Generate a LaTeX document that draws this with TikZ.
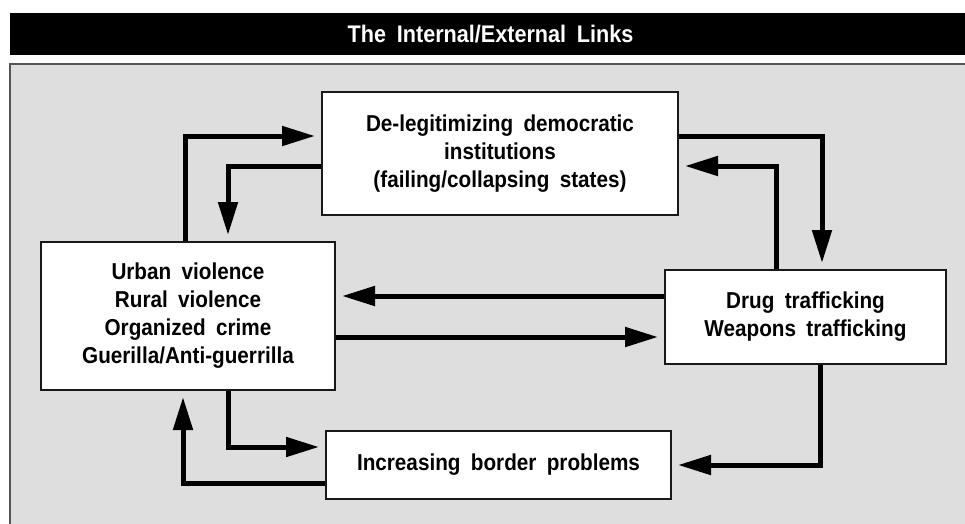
\documentclass[tikz,border=0pt]{standalone}
\usepackage{fontspec}
\setmainfont{Liberation Sans}[FakeStretch=0.9, WordSpace=1.8]
\usetikzlibrary{arrows.meta}

\definecolor{panelgray}{HTML}{DEDEDE}
\definecolor{framegray}{HTML}{555555}

\tikzset{
  linkbox/.style={draw=black!90, line width=2pt, fill=white, align=center,
    inner sep=0pt, font=\bfseries\fontsize{23}{28}\selectfont},
  link/.style={line width=5pt, -{Triangle[length=33pt,width=19pt]}, shorten >=6pt}
}

\begin{document}
\begin{tikzpicture}[x=1pt,y=-1pt]

        \useasboundingbox (0,0) rectangle (965,523);

        % title bar and panel
        \node[fill=black, minimum width=962pt, minimum height=42pt, inner sep=0pt,
              text=white, font=\bfseries\fontsize{24}{26}\selectfont]
              (title) at (490.5,34) {The Internal/External Links};
        \draw[framegray, line width=2pt, fill=panelgray] (9.5,63.5) rectangle (980,540);

        \begin{scope}[every node/.style={linkbox}]
          \node[minimum width=356pt, minimum height=123pt] (deleg)  at (500,153.5)
            {De-legitimizing democratic\\institutions\\(failing/collapsing states)};
          \node[minimum width=294pt, minimum height=148pt] (urban)  at (188,316)
            {Urban violence\\Rural violence\\Organized crime\\Guerilla/Anti-guerrilla};
          \node[minimum width=281pt, minimum height=94pt]  (drug)   at (805.5,317)
            {Drug trafficking\\Weapons trafficking};
          \node[minimum width=345pt, minimum height=68pt]  (border) at (498.5,465)
            {Increasing border problems};
        \end{scope}

        \begin{scope}[every path/.style={link}]
          \draw ([xshift=-3pt]urban.north)   |- ([yshift=17.5pt]deleg.west);
          \draw ([yshift=-12.5pt]deleg.west) -| ([xshift=40pt]urban.north);
          \draw ([yshift=17.5pt]deleg.east)  -| ([xshift=16.5pt]drug.north);
          \draw ([xshift=-29.5pt]drug.north) |- ([yshift=-12.5pt]deleg.east);
          \draw ([yshift=21pt]drug.west)     -- ([yshift=20pt]urban.east);
          \draw ([yshift=-21pt]urban.east)   -- ([yshift=-20pt]drug.west);
          \draw ([xshift=40pt]urban.south)   |- ([yshift=18pt]border.west);
          \draw ([yshift=-18pt]border.west)  -| ([xshift=-5pt]urban.south);
          \draw ([xshift=14.5pt]drug.south)  |- (border.east);
        \end{scope}

      \end{tikzpicture}
\end{document}
